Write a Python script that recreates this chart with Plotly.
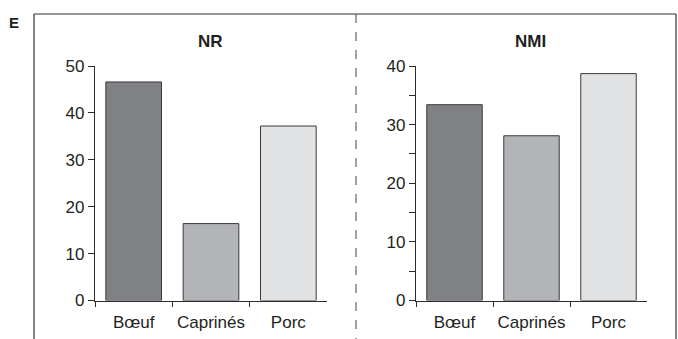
import plotly.graph_objects as go

categories = ["Bœuf", "Caprinés", "Porc"]
nr_values = [46.6, 16.4, 37.2]
nmi_values = [33.4, 28.1, 38.7]
bar_colors = ["#808184", "#b3b4b7", "#e1e2e4"]
nr_ticks = [0, 10, 20, 30, 40, 50]
nmi_ticks = [0, 10, 20, 30, 40]

W, H = 678, 339
def px(x): return x / W
def py(y): return (H - y) / H

FONT = "Liberation Sans"
TXT = "#231f20"
AX = "#2b2b2b"

fig = go.Figure()
fig.add_trace(go.Bar(x=categories, y=nr_values, xaxis="x", yaxis="y",
                     marker=dict(color=bar_colors, line=dict(color="#3a3a3a", width=1)),
                     width=0.72, showlegend=False, hoverinfo="x+y"))
fig.add_trace(go.Bar(x=categories, y=nmi_values, xaxis="x2", yaxis="y2",
                     marker=dict(color=bar_colors, line=dict(color="#3a3a3a", width=1)),
                     width=0.72, showlegend=False, hoverinfo="x+y"))

ydom = [py(300.5), py(66)]
xcommon = dict(type="category", tickson="boundaries", ticks="outside", ticklen=5,
               tickwidth=1, tickcolor=AX, showline=True, linecolor=AX, linewidth=1.3,
               showgrid=False, zeroline=False, fixedrange=True, tickangle=0, automargin=False,
               ticklabelstandoff=6,
               tickfont=dict(family=FONT, size=17, color=TXT))
ycommon = dict(ticks="outside", ticklen=6, tickwidth=1, tickcolor=AX, showline=True,
               linecolor=AX, linewidth=1.3, showgrid=False, zeroline=False, automargin=False,
               tickfont=dict(family=FONT, size=17, color=TXT), fixedrange=True,
               tickmode="array")

fig.update_layout(
    width=W, height=H, autosize=False, margin=dict(l=0, r=0, t=0, b=0, pad=0, autoexpand=False),
    paper_bgcolor="white", plot_bgcolor="white",
    xaxis=dict(domain=[px(95), px(327)], anchor="y", **xcommon),
    yaxis=dict(domain=ydom, anchor="x", range=[0, 50], tickvals=nr_ticks, **ycommon),
    xaxis2=dict(domain=[px(416), px(647)], anchor="y2", **xcommon),
    yaxis2=dict(domain=ydom, anchor="x2", range=[0, 40], tickvals=nmi_ticks,
                minor=dict(dtick=5, tick0=0, ticks="outside", ticklen=6, tickwidth=1, tickcolor=AX),
                **ycommon),
    shapes=[
        dict(type="line", xref="paper", yref="paper", x0=px(34), x1=px(676), y0=py(14), y1=py(14),
             line=dict(color="#333", width=1.2)),
        dict(type="line", xref="paper", yref="paper", x0=px(34), x1=px(34), y0=py(14), y1=0,
             line=dict(color="#333", width=1.2)),
        dict(type="line", xref="paper", yref="paper", x0=px(676), x1=px(676), y0=py(14), y1=0,
             line=dict(color="#333", width=1.2)),
        dict(type="line", xref="paper", yref="paper", x0=px(356), x1=px(356), y0=py(14), y1=0,
             line=dict(color="#444", width=1, dash="dash")),
    ],
    annotations=[
        dict(text="<b>E</b>", xref="paper", yref="paper", x=px(14), y=py(22), showarrow=False,
             xanchor="center", yanchor="middle", font=dict(family=FONT, size=15, color=TXT)),
        dict(text="<b>NR</b>", xref="paper", yref="paper", x=px(210), y=py(42), showarrow=False,
             xanchor="center", yanchor="middle", font=dict(family=FONT, size=17, color=TXT)),
        dict(text="<b>NMI</b>", xref="paper", yref="paper", x=px(530), y=py(42), showarrow=False,
             xanchor="center", yanchor="middle", font=dict(family=FONT, size=17, color=TXT)),
    ],
)

post = """
var de=document.documentElement, b=document.body;
de.style.overflow='hidden'; de.style.margin='0'; de.style.padding='0';
b.style.margin='0'; b.style.padding='0'; b.style.overflow='hidden';
"""

fig.write_html("out.html", config={"responsive": False, "displayModeBar": False},
               post_script=post)
